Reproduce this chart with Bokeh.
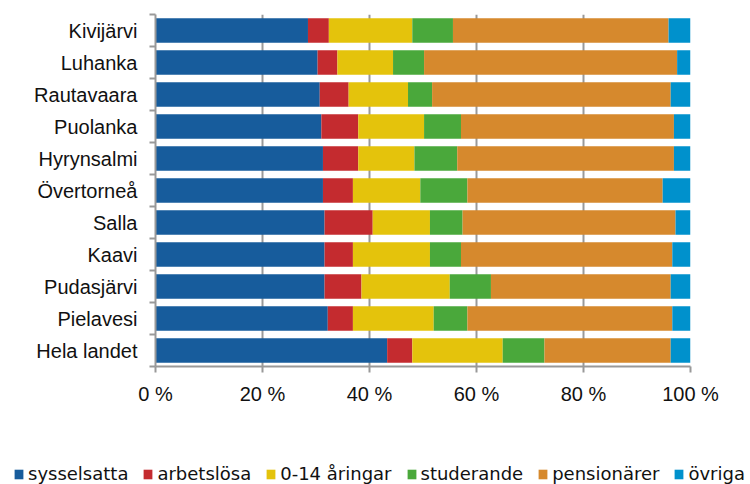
from bokeh.plotting import figure
from bokeh.layouts import column
from bokeh.models import (ColumnDataSource, Range1d, FixedTicker, Legend, LegendItem,
                          PrintfTickFormatter)
from bokeh.embed import file_html
from bokeh.resources import INLINE

categories = ["Kivijärvi", "Luhanka", "Rautavaara", "Puolanka", "Hyrynsalmi", "Övertorneå",
              "Salla", "Kaavi", "Pudasjärvi", "Pielavesi", "Hela landet"]
series = ["sysselsatta", "arbetslösa", "0-14 åringar", "studerande", "pensionärer", "övriga"]
sysselsatta = [28.5, 30.3, 30.7, 31.0, 31.3, 31.3, 31.6, 31.6, 31.6, 32.2, 43.3]
arbetslosa = [3.9, 3.7, 5.4, 6.9, 6.6, 5.6, 9.0, 5.3, 6.9, 4.7, 4.7]
aringar = [15.6, 10.4, 11.1, 12.3, 10.5, 12.6, 10.7, 14.4, 16.5, 15.1, 16.9]
studerande = [7.6, 5.8, 4.5, 6.9, 8.0, 8.8, 6.1, 5.8, 7.7, 6.3, 7.8]
pensionarer = [40.3, 47.3, 44.6, 39.8, 40.5, 36.5, 39.8, 39.5, 33.6, 38.3, 23.6]
ovriga = [4.1, 2.5, 3.7, 3.1, 3.1, 5.2, 2.8, 3.4, 3.7, 3.4, 3.7]
x_ticks = [0, 20, 40, 60, 80, 100]

colors = ["#175c9c", "#c42b2f", "#e4c30c", "#4aa83b", "#d6892d", "#0091cc"]
values = [sysselsatta, arbetslosa, aringar, studerande, pensionarer, ovriga]

ypos = [i + 0.5 for i in range(len(categories))]
data = {"y": ypos}
for name, vals in zip(series, values):
    data[name] = vals
src = ColumnDataSource(data)

FONT = "Liberation Sans"
LEGEND_FONT = "DejaVu Sans"

p = figure(width=750, height=410, output_backend="svg", toolbar_location=None,
           x_range=Range1d(0, 100), y_range=Range1d(len(categories), 0),
           min_border_left=155, min_border_right=60, min_border_top=14, min_border_bottom=44)
p.outline_line_color = None
p.frame_align = False

renderers = p.hbar_stack(series, y="y", height=0.76, color=colors, source=src,
                         line_color=None)

# grid
p.ygrid.grid_line_color = None
p.xgrid.ticker = FixedTicker(ticks=x_ticks)
p.xgrid.grid_line_color = "#999999"
p.xgrid.grid_line_width = 2
p.xgrid.level = "underlay"

# x axis
xa = p.xaxis[0]
xa.ticker = FixedTicker(ticks=x_ticks)
xa.formatter = PrintfTickFormatter(format="%d %%")
xa.axis_line_color = "#999999"
xa.axis_line_width = 2
xa.major_tick_line_color = "#999999"
xa.major_tick_line_width = 2
xa.major_tick_out = 6
xa.major_tick_in = 0
xa.minor_tick_line_color = None
xa.major_label_text_font = FONT
xa.major_label_text_font_size = "20px"
xa.major_label_text_color = "#111111"
xa.major_label_standoff = 10

# y axis
ya = p.yaxis[0]
ya.ticker = FixedTicker(ticks=ypos, minor_ticks=list(range(len(categories) + 1)))
ya.major_label_overrides = {y: c for y, c in zip(ypos, categories)}
ya.axis_line_color = "#999999"
ya.axis_line_width = 2
ya.major_tick_line_color = None
ya.minor_tick_line_color = "#999999"
ya.minor_tick_line_width = 2
ya.minor_tick_out = 6
ya.minor_tick_in = 0
ya.major_label_text_font = FONT
ya.major_label_text_font_size = "20px"
ya.major_label_text_color = "#111111"
ya.major_label_standoff = 12

# legend panel: same stacked series, drawn outside its visible range; only the legend shows
lf = figure(width=750, height=74, output_backend="svg", toolbar_location=None,
            x_range=Range1d(0, 100), y_range=Range1d(100, 101),
            x_axis_location=None, y_axis_location=None,
            min_border_left=0, min_border_right=0, min_border_top=0, min_border_bottom=0)
lf.frame_align = False
lf.outline_line_color = None
lf.xgrid.grid_line_color = None
lf.ygrid.grid_line_color = None
lrs = lf.hbar_stack(series, y="y", height=0.76, color=colors, source=src, line_color=None)
items = [LegendItem(label=s, renderers=[r]) for s, r in zip(series, lrs)]
legend = Legend(items=items, orientation="horizontal", location=(13, 0),
                label_text_font=LEGEND_FONT, label_text_font_size="18px",
                label_text_color="#111111",
                glyph_width=11, glyph_height=12, label_standoff=4, spacing=14,
                padding=0, margin=0, border_line_color=None,
                background_fill_alpha=0)
lf.add_layout(legend, "center")

layout = column(p, lf, spacing=0)
open("out.html", "w").write(file_html(layout, INLINE))
